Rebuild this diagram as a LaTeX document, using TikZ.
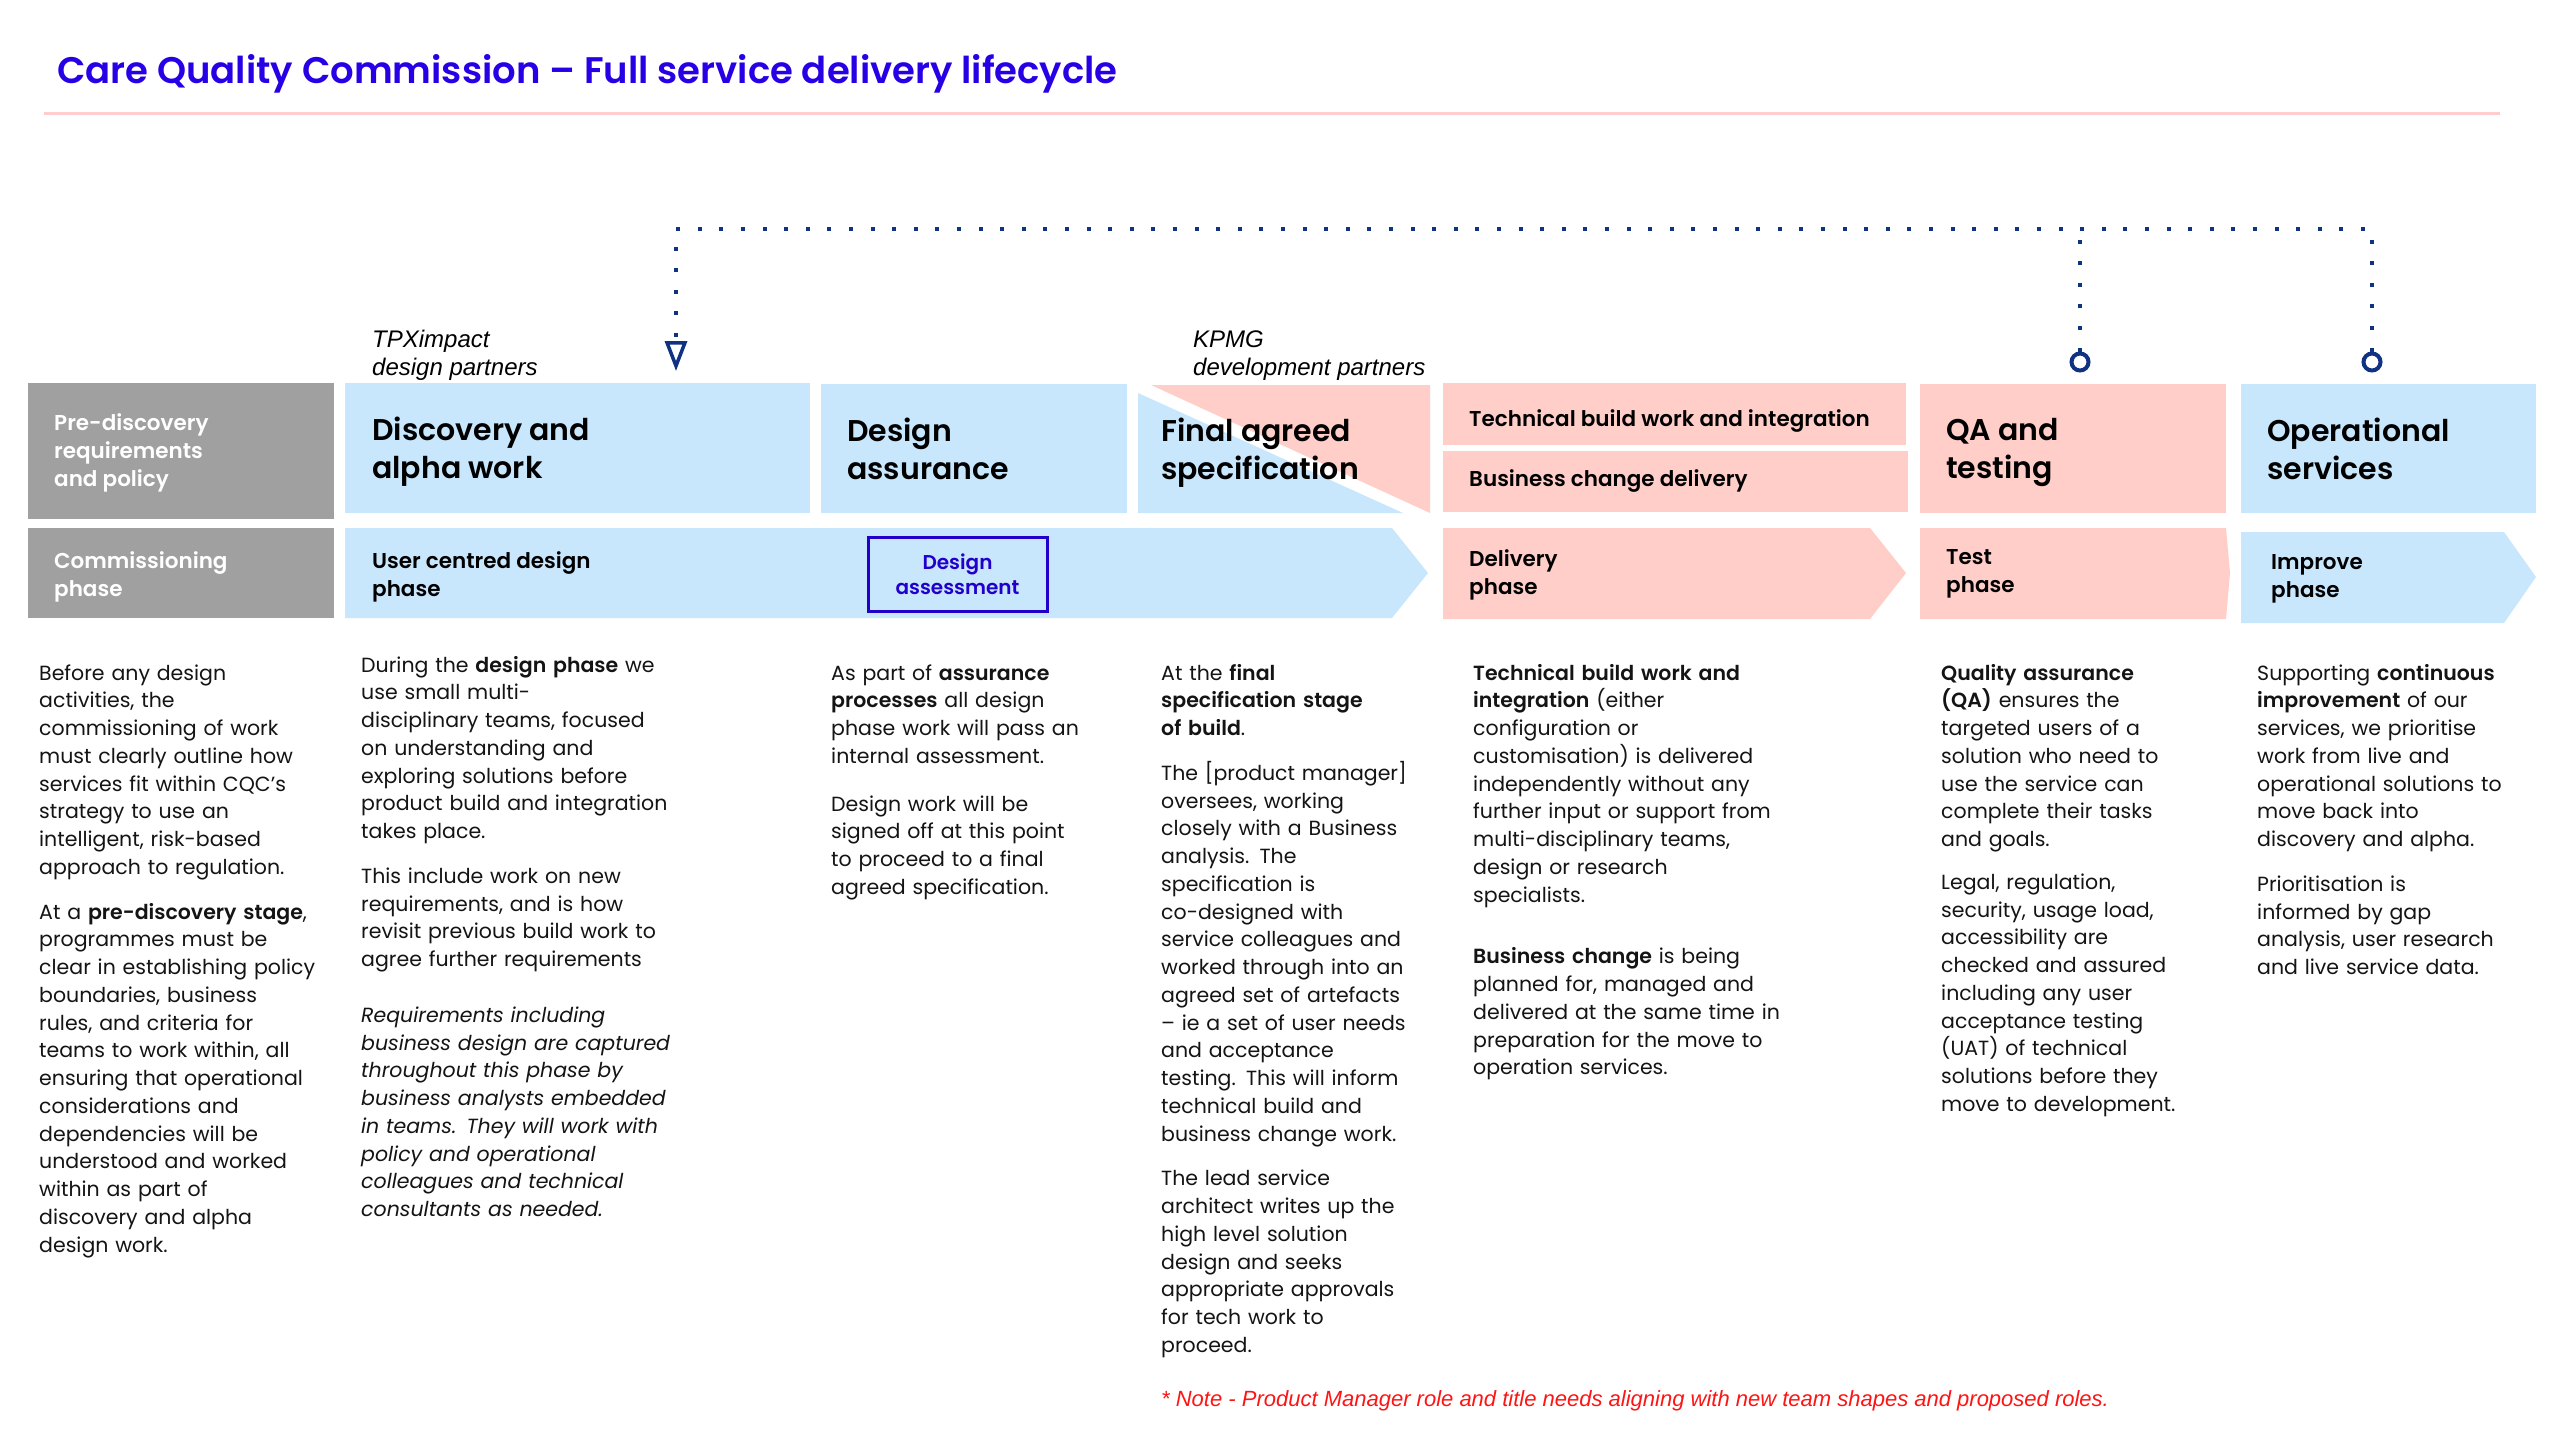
\documentclass[tikz,border=0pt]{standalone}
\usepackage{fontspec}
\setmainfont{Poppins}[BoldFont={* SemiBold}, BoldItalicFont={* SemiBold Italic}]
\newfontfamily\sbfont{Poppins SemiBold}
\newfontfamily\narrowfont{Liberation Sans}
\usetikzlibrary{arrows.meta}
\definecolor{cqblue}{RGB}{201,231,252}
\definecolor{cqpink}{RGB}{255,206,200}
\definecolor{cqgray}{RGB}{160,160,160}
\definecolor{cqnavy}{RGB}{16,50,130}
\definecolor{cqtitle}{RGB}{40,0,230}
\definecolor{cqassess}{RGB}{34,0,204}
\definecolor{cqrule}{RGB}{255,205,205}
\definecolor{cqred}{RGB}{255,20,20}
\definecolor{cqtext}{RGB}{20,20,20}
\tikzset{
  panel/.style={anchor=north west, inner sep=0pt, outer sep=0pt, draw=none, rectangle},
  bigtitle/.style={anchor=base west, inner sep=0pt, text=cqtitle, font=\sbfont\fontsize{37}{44}\selectfont},
  phasehead/.style={anchor=west, inner sep=0pt, align=left, text=black, font=\sbfont\fontsize{30}{38}\selectfont},
  smallhead/.style={anchor=west, inner sep=0pt, align=left, text=black, font=\sbfont\fontsize{21.5}{28}\selectfont},
  grayhead/.style={smallhead, text=white},
  partner/.style={anchor=base west, inner sep=0pt, align=left, font=\narrowfont\itshape\fontsize{24}{27.5}\selectfont},
  bodytext/.style={anchor=base west, inner sep=0pt, text width=440pt, align=left, text=cqtext, font=\fontsize{20.5}{27.76}\selectfont},
  dotline/.style={draw=cqnavy, line width=4pt, dash pattern=on 4pt off 17.6pt},
  ring/.style={circle, draw=cqnavy, line width=4pt, minimum size=17pt, inner sep=0pt, fill=white},
}
\begin{document}
\begin{tikzpicture}[x=1pt,y=-1pt]
\useasboundingbox (0,0) rectangle (2560,1440);
\fill[white] (0,0) rectangle (2560,1440);

% title
\node[bigtitle] (title) at (57,83) {Care Quality Commission – Full service delivery lifecycle};
\draw[cqrule, line width=3pt] (44,113) -- (2500,113);

% partner labels (base = last line)
\node[partner] (tpx) at (372,375) {TPXimpact\\design partners};
\node[partner] (kpmg) at (1193,375) {KPMG\\development partners};

% top row
\node[panel, fill=cqgray, minimum width=306pt, minimum height=136pt] (pre) at (28,383) {};
\node[panel, fill=cqblue, minimum width=465pt, minimum height=130pt] (disc) at (345,383) {};
\node[panel, fill=cqblue, minimum width=306pt, minimum height=129pt] (dassure) at (821,384) {};
\fill[cqblue] (1138,393) -- (1403,513) -- (1138,513) -- cycle;
\fill[cqpink] (1151,385) -- (1430,385) -- (1430,513) -- cycle;
\node[panel, fill=cqpink, minimum width=463pt, minimum height=62pt] (tech) at (1443,383) {};
\node[panel, fill=cqpink, minimum width=465pt, minimum height=61pt] (biz) at (1443,451) {};
\node[panel, fill=cqpink, minimum width=306pt, minimum height=129pt] (qa) at (1920,384) {};
\node[panel, fill=cqblue, minimum width=295pt, minimum height=129pt] (ops) at (2241,384) {};

% second row
\node[panel, fill=cqgray, minimum width=306pt, minimum height=90pt] (comm) at (28,528) {};
\fill[cqblue] (345,528) -- (1392,528) -- (1428,573) -- (1392,618) -- (345,618) -- cycle;
\fill[cqpink] (1443,528) -- (1870,528) -- (1906,573) -- (1870,619) -- (1443,619) -- cycle;
\fill[cqpink] (1920,528) -- (2226,528) -- (2230,573) -- (2226,619) -- (1920,619) -- cycle;
\fill[cqblue] (2241,532) -- (2504,532) -- (2536,577) -- (2504,623) -- (2241,623) -- cycle;
\node[panel, draw=cqassess, line width=3pt, fill=cqblue, minimum width=179pt, minimum height=74pt,
      align=center, text=cqassess, font=\sbfont\fontsize{20}{25.5}\selectfont] (dassess) at (868,537) {Design\\assessment};

% box headings
\node[grayhead] (pretxt) at (54,453) {Pre-discovery\\requirements\\and policy};
\node[grayhead] (commtxt) at (54,577) {Commissioning\\phase};
\node[phasehead] (disctxt) at (372,452) {Discovery and\\alpha work};
\node[phasehead] (datxt) at (847,449) {Design\\assurance};
\node[phasehead] (fstxt) at (1161,453) {Final agreed\\specification};
\node[smallhead] (techtxt) at (1469,421) {Technical build work and integration};
\node[smallhead] (biztxt) at (1469,481) {Business change delivery};
\node[phasehead] (qatxt) at (1946,452) {QA and\\testing};
\node[phasehead] (opstxt) at (2267,449) {Operational\\services};
\node[smallhead] (uctxt) at (372,577) {User centred design\\phase};
\node[smallhead] (deltxt) at (1469,575) {Delivery\\phase};
\node[smallhead] (testtxt) at (1946,574) {Test\\phase};
\node[smallhead] (imptxt) at (2271,579) {Improve\\phase};

% dotted feedback connector
\node[ring] (qaring) at (2080,362) {};
\node[ring] (opsring) at (2372,362) {};
\coordinate (opscorner) at (2372,229);
\coordinate (qajoin) at (2080,229);
\coordinate (discend) at (676,371);
\draw[dotline, -{Triangle[open, length=30pt, width=22pt, line width=3.5pt]}] (opsring.north) -- (opscorner) -| (discend);
\draw[dotline] (qaring.north) -- (qajoin);

% body columns
\node[bodytext] (col1) at (39,680) {Before any design\\
activities, the\\
commissioning of work\\
must clearly outline how\\
services fit within CQC’s\\
strategy to use an\\
intelligent, risk-based\\
approach to regulation.\\[17pt]
At a \textbf{pre-discovery stage},\\
programmes must be\\
clear in establishing policy\\
boundaries, business\\
rules, and criteria for\\
teams to work within, all\\
ensuring that operational\\
considerations and\\
dependencies will be\\
understood and worked\\
within as part of\\
discovery and alpha\\
design work.};

\node[bodytext] (col2) at (361,672) {During the \textbf{design phase} we\\
use small multi-\\
disciplinary teams, focused\\
on understanding and\\
exploring solutions before\\
product build and integration\\
takes place.\\[17pt]
This include work on new\\
requirements, and is how\\
revisit previous build work to\\
agree further requirements\\[28pt]
{\itshape Requirements including\\
business design are captured\\
throughout this phase by\\
business analysts embedded\\
in teams. They will work with\\
policy and operational\\
colleagues and technical\\
consultants as needed.}};

\node[bodytext] (col3) at (831,680) {As part of \textbf{assurance}\\
\textbf{processes} all design\\
phase work will pass an\\
internal assessment.\\[20pt]
Design work will be\\
signed off at this point\\
to proceed to a final\\
agreed specification.};

\node[bodytext] (col4) at (1161,680) {At the \textbf{final}\\
\textbf{specification stage}\\
\textbf{of build}.\\[17pt]
The [product manager]\\
oversees, working\\
closely with a Business\\
analysis. The\\
specification is\\
co-designed with\\
service colleagues and\\
worked through into an\\
agreed set of artefacts\\
– ie a set of user needs\\
and acceptance\\
testing. This will inform\\
technical build and\\
business change work.\\[17pt]
The lead service\\
architect writes up the\\
high level solution\\
design and seeks\\
appropriate approvals\\
for tech work to\\
proceed.};

\node[bodytext] (col5) at (1473,680) {\textbf{Technical build work and}\\
\textbf{integration} (either\\
configuration or\\
customisation) is delivered\\
independently without any\\
further input or support from\\
multi-disciplinary teams,\\
design or research\\
specialists.\\[34pt]
\textbf{Business change} is being\\
planned for, managed and\\
delivered at the same time in\\
preparation for the move to\\
operation services.};

\node[bodytext] (col6) at (1941,680) {\textbf{Quality assurance}\\
\textbf{(QA)} ensures the\\
targeted users of a\\
solution who need to\\
use the service can\\
complete their tasks\\
and goals.\\[15pt]
Legal, regulation,\\
security, usage load,\\
accessibility are\\
checked and assured\\
including any user\\
acceptance testing\\
(UAT) of technical\\
solutions before they\\
move to development.};

\node[bodytext] (col7) at (2257,680) {Supporting \textbf{continuous}\\
\textbf{improvement} of our\\
services, we prioritise\\
work from live and\\
operational solutions to\\
move back into\\
discovery and alpha.\\[17pt]
Prioritisation is\\
informed by gap\\
analysis, user research\\
and live service data.};

% note
\node[anchor=base west, inner sep=0pt, text=cqred, font=\narrowfont\itshape\fontsize{22}{26}\selectfont] (note) at (1161,1406) {* Note - Product Manager role and title needs aligning with new team shapes and proposed roles.};
\end{tikzpicture}
\end{document}
